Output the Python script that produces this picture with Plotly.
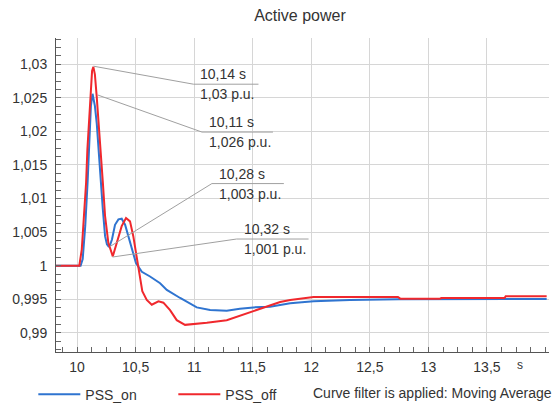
import plotly.graph_objects as go

# ---- data ----
t_on = [9.82, 10.03, 10.048, 10.07, 10.09, 10.105, 10.118, 10.132, 10.152, 10.168, 10.182, 10.2, 10.22,
        10.239, 10.255, 10.268, 10.282, 10.298, 10.324, 10.353, 10.381, 10.41, 10.438, 10.467, 10.503,
        10.553, 10.623, 10.709, 10.766, 10.88, 11.022, 11.136, 11.278, 11.39, 11.506, 11.648, 11.734,
        11.82, 12.02, 12.33, 12.75, 13.1, 13.65, 13.66, 14.01]
p_on = [1.0, 1.0, 1.001, 1.006, 1.0125, 1.019, 1.0238, 1.0256, 1.0238, 1.0212, 1.0175, 1.013, 1.0084,
        1.0044, 1.0032, 1.0029, 1.0031, 1.0039, 1.0061, 1.0069, 1.007, 1.0061, 1.0044, 1.0024, 1.0004,
        0.9991, 0.9984, 0.9974, 0.9964, 0.9952, 0.9938, 0.9934, 0.9933, 0.9936, 0.9938, 0.9939, 0.9942,
        0.9944, 0.9947, 0.9949, 0.995, 0.995, 0.995, 0.99505, 0.99505]

t_off = [9.82, 10.019, 10.04, 10.06, 10.077, 10.088, 10.097, 10.111, 10.128, 10.139, 10.152, 10.168,
         10.19, 10.2, 10.22, 10.239, 10.267, 10.305, 10.339, 10.381, 10.418, 10.452, 10.48, 10.515,
         10.538, 10.557, 10.595, 10.638, 10.695, 10.737, 10.794, 10.851, 10.922, 10.993, 11.108, 11.278,
         11.449, 11.62, 11.734, 11.82, 11.93, 12.02, 12.74, 12.76, 13.1, 13.11, 13.65, 13.66, 14.01]
p_off = [1.0, 1.0, 1.0024, 1.0074, 1.0124, 1.0173, 1.0201, 1.0251, 1.029, 1.0296, 1.0285, 1.0251,
         1.0201, 1.0173, 1.0124, 1.0074, 1.0034, 1.0014, 1.0034, 1.0059, 1.0071, 1.0066, 1.0044, 1.0004,
         0.9979, 0.9962, 0.9949, 0.9942, 0.9947, 0.9945, 0.9934, 0.9919, 0.9912, 0.9913, 0.9915, 0.9919,
         0.9929, 0.994, 0.9946, 0.9949, 0.9952, 0.99535, 0.99535, 0.9951, 0.9951, 0.9952, 0.9952,
         0.99545, 0.99545]

x_tickvals = [10, 10.5, 11, 11.5, 12, 12.5, 13, 13.5]
x_ticktext = ["10", "10,5", "11", "11,5", "12", "12,5", "13", "13,5"]
y_tickvals = [0.99, 0.995, 1.0, 1.005, 1.01, 1.015, 1.02, 1.025, 1.03]
y_ticktext = ["0,99", "0,995", "1", "1,005", "1,01", "1,015", "1,02", "1,025", "1,03"]

# marker annotations: (time, value, time label, value label)
mark_t = [10.14, 10.11, 10.28, 10.32]
mark_v = [1.03, 1.026, 1.003, 1.001]
mark_t_txt = ["10,14 s", "10,11 s", "10,28 s", "10,32 s"]
mark_v_txt = ["1,03 p.u.", "1,026 p.u.", "1,003 p.u.", "1,001 p.u."]
# pixel styling of the leader lines: start offset, elbow offset, underline end x
lead_start = [(0, -2), (8, -4), (0, -1), (-2, 2)]
lead_elbow = [(100, -20), (112, -41), (102, 62), (122, 20)]
lead_end_x = [165, 183, 174, 194]

BLUE = "#2f74d0"
RED = "#f0282d"
FONT = "Liberation Sans, Arial, sans-serif"
TXT = "#333333"

fig = go.Figure()
fig.add_trace(go.Scatter(x=t_on, y=p_on, mode="lines", name="PSS_on",
                         line=dict(color=BLUE, width=2)))
fig.add_trace(go.Scatter(x=t_off, y=p_off, mode="lines", name="PSS_off",
                         line=dict(color=RED, width=2)))

shapes = []
annotations = []
for i in range(len(mark_t)):
    sx, sy = lead_start[i]
    ex, ey = lead_elbow[i]
    common = dict(type="line", xref="x", yref="y", xsizemode="pixel", ysizemode="pixel",
                  xanchor=mark_t[i], yanchor=mark_v[i], line=dict(color="#a0a0a0", width=1))
    shapes.append(dict(common, x0=sx, y0=sy, x1=ex, y1=ey))
    shapes.append(dict(common, x0=ex, y0=ey, x1=lead_end_x[i], y1=ey))
    annotations.append(dict(x=mark_t[i], y=mark_v[i], xref="x", yref="y", text=mark_t_txt[i],
                            showarrow=False, xanchor="left", yanchor="middle",
                            xshift=ex + 5, yshift=ey + 10, font=dict(size=14, color=TXT, family=FONT)))
    annotations.append(dict(x=mark_t[i], y=mark_v[i], xref="x", yref="y", text=mark_v_txt[i],
                            showarrow=False, xanchor="left", yanchor="middle",
                            xshift=ex + 5, yshift=ey - 10, font=dict(size=14, color=TXT, family=FONT)))

annotations.append(dict(x=13.78, y=0, xref="x", yref="paper", text="s", showarrow=False,
                        xanchor="center", yanchor="middle", yshift=-13,
                        font=dict(size=12, color=TXT, family=FONT)))
annotations.append(dict(x=0.517, y=-0.1306, xref="paper", yref="paper",
                        text="Curve filter is applied: Moving Average", showarrow=False,
                        xanchor="left", yanchor="middle", font=dict(size=14, color=TXT, family=FONT)))

fig.update_layout(
    width=554, height=405,
    margin=dict(l=56, r=5, t=38, b=53, autoexpand=False),
    paper_bgcolor="white", plot_bgcolor="white",
    font=dict(family=FONT, size=14, color=TXT),
    title=dict(text="Active power", x=0.5415, xref="container", xanchor="center",
               y=0.963, yref="container", yanchor="middle",
               font=dict(size=16, color=TXT, family=FONT)),
    showlegend=True,
    legend=dict(orientation="h", x=-0.046, xanchor="left", y=-0.085, yanchor="top",
                bgcolor="rgba(0,0,0,0)", font=dict(size=14, color=TXT, family=FONT),
                itemwidth=42, entrywidth=83, entrywidthmode="pixels", traceorder="normal"),
    shapes=shapes, annotations=annotations,
    xaxis=dict(range=[9.82, 14.03], tickmode="array", tickvals=x_tickvals, ticktext=x_ticktext,
               showgrid=True, gridcolor="#d6d6d6", gridwidth=1, zeroline=False,
               showline=True, linecolor="#555555", linewidth=1,
               ticks="inside", ticklen=5, tickcolor="#666666",
               minor=dict(tickmode="linear", tick0=10, dtick=0.125, ticks="inside", ticklen=5,
                          tickcolor="#666666", showgrid=False),
               tickfont=dict(size=14, color=TXT), ticklabelstandoff=2, fixedrange=True),
    yaxis=dict(range=[0.98716, 1.0339], tickmode="array", tickvals=y_tickvals, ticktext=y_ticktext,
               showgrid=True, gridcolor="#d6d6d6", gridwidth=1, zeroline=False,
               showline=True, linecolor="#555555", linewidth=1,
               ticks="inside", ticklen=5, tickcolor="#666666",
               minor=dict(tickmode="linear", tick0=1.0, dtick=0.00125, ticks="inside", ticklen=5,
                          tickcolor="#666666", showgrid=False),
               tickfont=dict(size=14, color=TXT), ticklabelstandoff=5, fixedrange=True),
)

fig.write_html("out.html")
